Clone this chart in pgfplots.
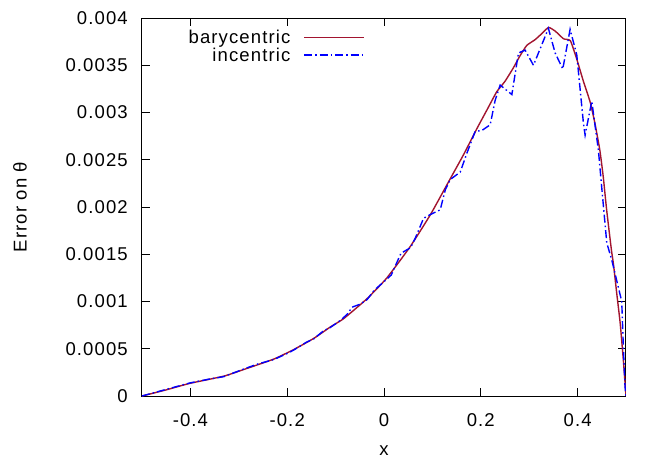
\documentclass[border=0pt]{standalone}
\usepackage{fontspec}
\setmainfont{Liberation Sans}[LetterSpace=6]
\usepackage{pgfplots}
\pgfplotsset{compat=1.18}
\definecolor{bary}{HTML}{A2142F}
\definecolor{inc}{HTML}{0000FF}

\pgfplotstableread{
x y
-0.5 0
-0.45 0.000065
-0.401 0.000134
-0.331 0.00021
-0.290 0.00028
-0.228 0.00039
-0.187 0.00049
-0.145 0.00061
-0.111 0.00073
-0.083 0.00082
-0.035 0.00103
0.006 0.00125
0.054 0.00158
0.096 0.00192
0.137 0.0023
0.165 0.00256
0.192 0.00283
0.213 0.00303
0.233 0.00322
0.250 0.00333
0.267 0.00347
0.281 0.00360
0.295 0.00371
0.312 0.00377
0.325 0.00383
0.340 0.0039
0.354 0.00386
0.371 0.00378
0.385 0.00376
0.398 0.00357
0.412 0.00333
0.426 0.00311
0.436 0.00288
0.446 0.0026
0.453 0.00232
0.460 0.00197
0.470 0.00154
0.474 0.0014
0.481 0.00108
0.488 0.00077
0.495 0.00035
0.5 0
}\barytab

\pgfplotstableread{
x y
-0.5 0
-0.45 0.00007
-0.401 0.000138
-0.36 0.00018
-0.331 0.000205
-0.29 0.000285
-0.26 0.00034
-0.228 0.000385
-0.20 0.00045
-0.187 0.000485
-0.16 0.00057
-0.145 0.000605
-0.125 0.00069
-0.111 0.000725
-0.09 0.0008
-0.075 0.00087
-0.066 0.00094
-0.05 0.00097
-0.035 0.00102
-0.02 0.00112
0.0 0.00121
0.015 0.00128
0.035 0.00151
0.055 0.00157
0.0646 0.00167
0.0817 0.00188
0.0956 0.00192
0.1162 0.00197
0.1265 0.00218
0.1368 0.00229
0.1575 0.00237
0.1713 0.00257
0.1884 0.0028
0.2023 0.00281
0.2194 0.00287
0.2297 0.00313
0.24 0.00329
0.2642 0.00319
0.2778 0.00363
0.2916 0.00366
0.3088 0.0035
0.3397 0.00389
0.3536 0.00363
0.3694 0.00346
0.3845 0.00388
0.3983 0.00361
0.412 0.00289
0.4155 0.00276
0.4293 0.00312
0.443 0.0026
0.45 0.0022
0.4603 0.00162
0.4706 0.00144
0.4912 0.001
0.4945 0.00052
0.498 0.0001
0.5 0
}\inctab

\begin{document}
\begin{tikzpicture}
\useasboundingbox (-142bp,-68bp) rectangle (522bp,396bp);
\begin{axis}[
  scale only axis,
  width=484bp, height=378bp,
  xmin=-0.5, xmax=0.5,
  ymin=0, ymax=0.004,
  font=\fontsize{18.6}{22}\selectfont,
  xtick={-0.4,-0.2,0,0.2,0.4},
  xticklabels={-0.4,-0.2,0,0.2,0.4},
  ytick={0,0.0005,0.001,0.0015,0.002,0.0025,0.003,0.0035,0.004},
  yticklabels={0,0.0005,0.001,0.0015,0.002,0.0025,0.003,0.0035,0.004},
  scaled y ticks=false,
  tick align=inside,
  major tick length=8bp,
  minor tick num=0,
  axis line style={line width=1bp},
  tick style={line width=0.8bp, black},
  yticklabel style={anchor=east, inner sep=0pt, xshift=-14bp},
  xticklabel style={anchor=north, inner sep=0pt, yshift=-17bp},
  xlabel={x},
  ylabel={Error on θ},
  xlabel style={at={(axis description cs:0.5,-0.1442)}, anchor=center, inner sep=0pt},
  ylabel style={at={(axis description cs:-0.252,0.5)}, anchor=center, inner sep=0pt},
  legend style={draw=none, fill=none, at={(axis description cs:0.4607,0.968)}, anchor=north east,
    inner sep=0pt, row sep=2.5bp, column sep=13bp, cells={anchor=east},
    nodes={inner sep=0pt},
    font=\fontsize{18.6}{22}\selectfont},
  legend plot pos=right,
  legend image code/.code={\draw[#1] plot coordinates {(0bp,0bp) (30bp,0bp) (60bp,0bp)};},
]
\addplot[color=bary, line width=1.4bp, smooth, tension=0.3] table[x=x,y=y] {\barytab};
\addlegendentry{barycentric}
\addplot[color=inc, line width=1.4bp, dash pattern=on 8bp off 3bp on 1.5bp off 3bp] table[x=x,y=y] {\inctab};
\addlegendentry{incentric}
\end{axis}
\end{tikzpicture}
\end{document}
